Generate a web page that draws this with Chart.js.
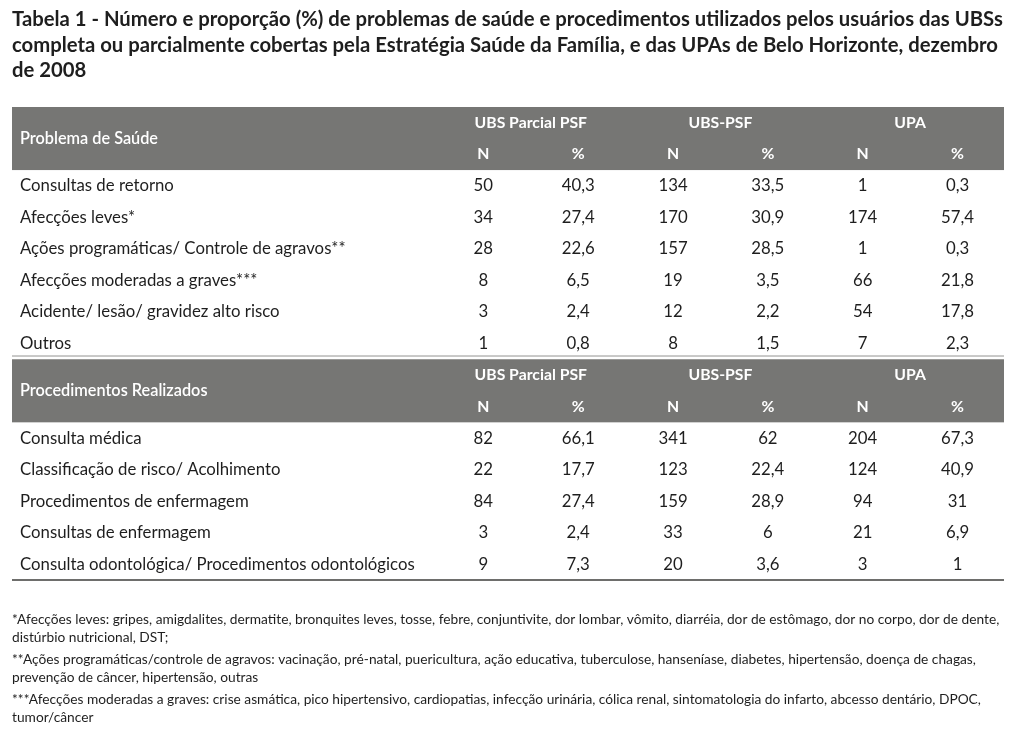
<!DOCTYPE html>
<html>
<head>
<meta charset="utf-8">
<script src="https://cdn.jsdelivr.net/npm/chart.js@4.4.0/dist/chart.umd.min.js"></script>
<style>
  html, body { margin: 0; padding: 0; background: #fff; }
</style>
</head>
<body>
<canvas id="tabelaChart" width="1024" height="731"></canvas>
<script>
// Tabela 1 - problemas de saude e procedimentos (UBS / UPA, BH 2008)
const titulo = [
    'Tabela 1 - Número e proporção (%) de problemas de saúde e procedimentos utilizados pelos usuários das UBSs',
    'completa ou parcialmente cobertas pela Estratégia Saúde da Família, e das UPAs de Belo Horizonte, dezembro',
    'de 2008'
];
const grupos = ['UBS Parcial PSF', 'UBS-PSF', 'UPA'];
const subColunas = ['N', '%'];

const problemas = ['Consultas de retorno', 'Afecções leves*', 'Ações programáticas/ Controle de agravos**',
    'Afecções moderadas a graves***', 'Acidente/ lesão/ gravidez alto risco', 'Outros'];
const probParcialN = [50, 34, 28, 8, 3, 1];
const probParcialPct = [40.3, 27.4, 22.6, 6.5, 2.4, 0.8];
const probPsfN = [134, 170, 157, 19, 12, 8];
const probPsfPct = [33.5, 30.9, 28.5, 3.5, 2.2, 1.5];
const probUpaN = [1, 174, 1, 66, 54, 7];
const probUpaPct = [0.3, 57.4, 0.3, 21.8, 17.8, 2.3];

const procedimentos = ['Consulta médica', 'Classificação de risco/ Acolhimento', 'Procedimentos de enfermagem',
    'Consultas de enfermagem', 'Consulta odontológica/ Procedimentos odontológicos'];
const procParcialN = [82, 22, 84, 3, 9];
const procParcialPct = [66.1, 17.7, 27.4, 2.4, 7.3];
const procPsfN = [341, 123, 159, 33, 20];
const procPsfPct = [62, 22.4, 28.9, 6, 3.6];
const procUpaN = [204, 124, 94, 21, 3];
const procUpaPct = [67.3, 40.9, 31, 6.9, 1];

const notas = [
    '*Afecções leves: gripes, amigdalites, dermatite, bronquites leves, tosse, febre, conjuntivite, dor lombar, vômito, diarréia, dor de estômago, dor no corpo, dor de dente,',
    'distúrbio nutricional, DST;',
    '**Ações programáticas/controle de agravos: vacinação, pré-natal, puericultura, ação educativa, tuberculose, hanseníase, diabetes, hipertensão, doença de chagas,',
    'prevenção de câncer, hipertensão, outras',
    '***Afecções moderadas a graves: crise asmática, pico hipertensivo, cardiopatias, infecção urinária, cólica renal, sintomatologia do infarto, abcesso dentário, DPOC,',
    'tumor/câncer'
];

// layout
const FONTE = 'Lato, "Open Sans", sans-serif';
const X_MIN = -4.97, X_MAX = 5.49;
const COR_FAIXA = '#767674';
const COR_TEXTO = '#1e1e1e';

const fmt = v => String(v).replace('.', ',');

// build rows: each section = 2 header rows + data rows
const secoes = [
    { nome: 'Problema de Saúde', rotulos: problemas,
      cols: [probParcialN, probParcialPct, probPsfN, probPsfPct, probUpaN, probUpaPct] },
    { nome: 'Procedimentos Realizados', rotulos: procedimentos,
      cols: [procParcialN, procParcialPct, procPsfN, procPsfPct, procUpaN, procUpaPct] }
];

const rotuloPts = [];
const grupoPts = [];
const colPts = [[], [], [], [], [], []];
const faixas = [];
let linha = 0;
secoes.forEach(s => {
    faixas.push(linha);
    rotuloPts.push({ x: X_MIN, y: linha + 0.5, t: s.nome, tipo: 'secao' });
    grupos.forEach((g, gi) => grupoPts.push({ x: gi * 2 + 0.5, y: linha, t: g, tipo: 'grupo' }));
    for (let c = 0; c < 6; c++) {
        colPts[c].push({ x: c, y: linha + 1, t: subColunas[c % 2], tipo: 'sub' });
    }
    linha += 2;
    s.rotulos.forEach((r, ri) => {
        rotuloPts.push({ x: X_MIN, y: linha, t: r, tipo: 'dado' });
        for (let c = 0; c < 6; c++) {
            colPts[c].push({ x: c, y: linha, t: fmt(s.cols[c][ri]), tipo: 'dado' });
        }
        linha++;
    });
});
const totalLinhas = linha;

function ajustarFonte(ctx, peso, texto, larguraAlvo, base) {
    ctx.font = peso + ' ' + base + 'px ' + FONTE;
    const w = ctx.measureText(texto).width;
    return base * larguraAlvo / w;
}

const pluginTabela = {
    id: 'tabela',
    beforeDatasetsDraw(chart) {
        const { ctx, chartArea, scales } = chart;
        const passo = Math.abs(scales.y.getPixelForValue(1) - scales.y.getPixelForValue(0));
        ctx.save();
        faixas.forEach((f, i) => {
            const y0 = scales.y.getPixelForValue(f) - passo / 2;
            const y1 = scales.y.getPixelForValue(f + 1) + passo / 2;
            ctx.fillStyle = COR_FAIXA;
            ctx.fillRect(chartArea.left, y0, chartArea.right - chartArea.left, y1 - y0);
            if (i > 0) {
                ctx.fillStyle = '#b8b8b6';
                ctx.fillRect(chartArea.left, y0 - 4, chartArea.right - chartArea.left, 1.5);
            }
        });
        ctx.fillStyle = '#6e6e6c';
        ctx.fillRect(chartArea.left, chartArea.bottom - 1, chartArea.right - chartArea.left, 2);
        ctx.restore();
    },
    afterDatasetsDraw(chart) {
        const { ctx } = chart;
        const tamCorpo = ajustarFonte(ctx, 'normal', procedimentos[4], 395, 16);
        ctx.save();
        ctx.textBaseline = 'middle';
        chart.data.datasets.forEach((ds, di) => {
            const meta = chart.getDatasetMeta(di);
            meta.data.forEach((el, i) => {
                const p = ds.data[i];
                if (p.tipo === 'dado') {
                    ctx.fillStyle = COR_TEXTO;
                    ctx.font = 'normal ' + tamCorpo + 'px ' + FONTE;
                } else if (p.tipo === 'secao') {
                    ctx.fillStyle = '#ffffff';
                    ctx.font = '600 ' + (tamCorpo - 0.5) + 'px ' + FONTE;
                } else {
                    ctx.fillStyle = '#ffffff';
                    ctx.font = 'bold ' + (tamCorpo - 1) + 'px ' + FONTE;
                }
                if (ds.alinhar === 'left') {
                    ctx.textAlign = 'left';
                    ctx.fillText(p.t, el.x + 8, el.y);
                } else {
                    ctx.textAlign = 'center';
                    ctx.fillText(p.t, el.x, el.y);
                }
            });
        });
        ctx.restore();
    },
    afterDraw(chart) {
        const { ctx } = chart;
        ctx.save();
        ctx.fillStyle = COR_TEXTO;
        ctx.textAlign = 'left';
        ctx.textBaseline = 'alphabetic';
        const tamTit = ajustarFonte(ctx, 'bold', titulo[0], 992, 19);
        ctx.font = 'bold ' + tamTit + 'px ' + FONTE;
        titulo.forEach((t, i) => ctx.fillText(t, 12, 26 + i * 25.5));

        const tamNota = ajustarFonte(ctx, 'normal', notas[0], 988, 13);
        ctx.font = 'normal ' + tamNota + 'px ' + FONTE;
        ctx.textBaseline = 'middle';
        const ys = [620, 638, 660, 678, 700, 718];
        notas.forEach((t, i) => ctx.fillText(t, 12, ys[i]));
        ctx.restore();
    }
};

const ctx = document.getElementById('tabelaChart').getContext('2d');
const tabelaChart = new Chart(ctx, {
    type: 'scatter',
    data: {
        datasets: [
            { label: 'rotulos', data: rotuloPts, alinhar: 'left', pointRadius: 0 },
            { label: 'grupos', data: grupoPts, pointRadius: 0 },
            ...colPts.map((pts, c) => ({ label: grupos[Math.floor(c / 2)] + ' ' + subColunas[c % 2], data: pts, pointRadius: 0 }))
        ]
    },
    plugins: [pluginTabela],
    options: {
        responsive: false,
        animation: false,
        events: [],
        layout: { padding: { top: 107, left: 12, right: 20, bottom: 151 } },
        scales: {
            x: { type: 'linear', min: X_MIN, max: X_MAX, display: false },
            y: { type: 'linear', min: -0.5, max: totalLinhas - 0.5, reverse: true, display: false }
        },
        plugins: {
            legend: { display: false },
            tooltip: { enabled: false }
        }
    }
});
</script>
</body>
</html>
